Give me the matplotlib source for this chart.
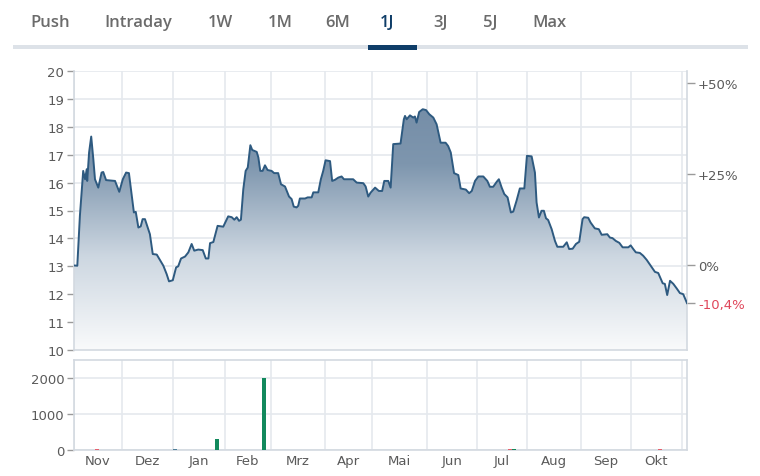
import numpy as np
import matplotlib
matplotlib.use("Agg")
import matplotlib.pyplot as plt
from matplotlib.patches import Polygon, Rectangle
from matplotlib.colors import LinearSegmentedColormap

# ---------------- data ----------------
tabs = ["Push", "Intraday", "1W", "1M", "6M", "1J", "3J", "5J", "Max"]
active_tab = "1J"

# trading-day index and closing price
day_idx = [0, 1.4, 2.5, 3.9, 4.7, 5.4, 5.6, 6.4, 7.3, 8.2, 8.9, 10.3, 11.7, 12.4, 13.6, 17.4,
           19.2, 20.7, 22.1, 23.3, 24.5, 25.4, 26.2, 27.3, 28.3, 29.1, 30.1, 32.2, 33.4, 35.1,
           37.9, 39.3, 40.3, 41.9, 43.3, 44.2, 45.4, 47.1, 48.5, 49.9, 51.0, 52.7, 54.6, 55.9,
           57.0, 57.7, 59.1, 60.9, 63.3, 64.8, 65.4, 66.9, 68.0, 69.0, 70.0, 70.8, 71.8, 72.8,
           73.7, 74.8, 75.6, 77.5, 78.2, 79.0, 80.0, 81.0, 82.1, 83.8, 84.9, 86.6, 87.8, 89.5,
           91.2, 92.3, 93.2, 94.4, 95.1, 95.8, 98.0, 99.1, 100.8, 101.5, 103.6, 104.7, 105.7,
           106.7, 108.6, 109.5, 110.7, 112.1, 113.5, 114.5, 118.4, 119.9, 122.7, 123.7, 124.8,
           125.8, 127.7, 129.3, 130.7, 131.6, 133.3, 134.3, 135.4, 138.5, 139.9, 140.4, 141.1,
           142.5, 143.9, 144.6, 145.3, 146.4, 147.9, 149.3, 150.7, 152.4, 153.8, 154.9, 155.5,
           157.6, 158.7, 159.8, 161.2, 163.0, 164.0, 166.2, 167.6, 168.7, 170.1, 171.5, 173.6,
           175.3, 176.4, 177.8, 179.3, 180.2, 181.4, 182.5, 183.9, 185.3, 186.3, 187.7, 189.1,
           191.0, 192.1, 194.1, 195.5, 196.2, 197.2, 198.3, 199.3, 200.2, 201.1, 202.6, 204.0,
           205.0, 207.5, 209.0, 210.0, 211.5, 212.9, 214.3, 215.7, 216.4, 218.1, 219.1, 220.9,
           222.6, 223.8, 225.2, 226.2, 227.3, 228.4, 229.8, 231.3, 232.7, 235.1, 236.1, 237.2,
           238.3, 240.0, 241.4, 242.9, 244.6, 246.4, 247.8, 248.8, 249.7, 250.6, 251.6, 252.8,
           254.2, 255.6, 257.0, 258.4, 260.0]
price = [13.03, 13.02, 14.81, 16.42, 16.12, 16.48, 16.06, 17.08, 17.65, 16.84, 16.12, 15.82,
         16.36, 16.38, 16.09, 16.06, 15.67, 16.12, 16.36, 16.34, 15.52, 14.93, 14.95, 14.39,
         14.43, 14.69, 14.69, 14.15, 13.44, 13.42, 13.02, 12.72, 12.46, 12.50, 12.96, 13.00,
         13.28, 13.35, 13.50, 13.80, 13.56, 13.60, 13.58, 13.28, 13.28, 13.83, 13.87, 14.45,
         14.42, 14.69, 14.79, 14.76, 14.67, 14.76, 14.63, 14.67, 15.76, 16.42, 16.54, 17.34,
         17.17, 17.10, 16.90, 16.42, 16.42, 16.62, 16.45, 16.42, 16.34, 16.34, 15.94, 15.86,
         15.50, 15.41, 15.14, 15.11, 15.17, 15.43, 15.43, 15.47, 15.47, 15.65, 15.65, 16.12,
         16.42, 16.80, 16.77, 16.06, 16.10, 16.18, 16.22, 16.12, 16.12, 16.00, 15.98, 15.86,
         15.50, 15.64, 15.82, 15.70, 15.70, 16.06, 16.06, 15.82, 17.38, 17.40, 18.27, 18.39,
         18.27, 18.41, 18.33, 18.37, 18.15, 18.53, 18.63, 18.60, 18.45, 18.33, 18.09, 17.67,
         17.43, 17.43, 17.31, 17.08, 16.34, 16.27, 15.79, 15.75, 15.62, 15.70, 16.06, 16.22,
         16.22, 16.06, 15.85, 15.85, 16.03, 16.12, 15.82, 15.59, 15.47, 14.93, 14.96, 15.35,
         15.79, 15.79, 16.96, 16.94, 16.36, 15.29, 14.75, 14.99, 14.99, 14.72, 14.66, 14.33,
         13.91, 13.70, 13.70, 13.86, 13.62, 13.63, 13.80, 13.88, 14.69, 14.76, 14.74, 14.57,
         14.36, 14.33, 14.13, 14.14, 14.15, 14.03, 14.01, 13.91, 13.84, 13.68, 13.68, 13.75,
         13.62, 13.50, 13.48, 13.38, 13.23, 13.02, 12.80, 12.76, 12.57, 12.39, 12.37, 11.97,
         12.48, 12.37, 12.21, 12.04, 12.00, 11.68]

base_price = 13.04
pct_ticks = [0.50, 0.25, 0.0, -0.104]
pct_labels = ["+50%", "+25%", "0%", "-10,4%"]

months = ["Nov", "Dez", "Jan", "Feb", "Mrz", "Apr", "Mai", "Jun", "Jul", "Aug", "Sep", "Okt"]
month_start_idx = [0, 20.4, 42.0, 64.0, 83.5, 106.4, 126.4, 149.7, 170.9, 192.1, 215.0, 236.2, 257.8]

vol_idx = [9.8, 42.8, 60.5, 80.6, 185.0, 186.7, 248.5, 258.9]
vol_val = [25, 15, 300, 2000, 20, 20, 20, 12]
vol_up = [False, None, True, True, False, True, False, None]

# ---------------- style ----------------
GRID = "#e5e9ee"
SPINE = "#d3d9e0"
TXT = "#5a5a5a"
LINE = "#2e5a80"
UP = "#12895c"
DOWN = "#e4606d"
NEUTRAL = "#4f7f99"

W, H = 760, 477
fig = plt.figure(figsize=(W / 100, H / 100), dpi=100)
fig.patch.set_facecolor("white")

def fx(px):
    return px / W

def fy(py):
    return 1 - py / H

# ---------------- tabs ----------------
tab_x = [50, 138, 220, 280, 338, 387, 441, 490, 549]
for t, x in zip(tabs, tab_x):
    act = t == active_tab
    fig.text(fx(x), fy(23), t, ha="center", va="center", fontsize=12,
             family=["Open Sans", "DejaVu Sans"], fontweight="semibold",
             color="#0f3d68" if act else "#6b6b6b")
fig.add_artist(Rectangle((fx(13), fy(50)), fx(748) - fx(13), 4 / H,
                         transform=fig.transFigure, facecolor="#dde2e8", edgecolor="none"))
fig.add_artist(Rectangle((fx(368), fy(51)), fx(417) - fx(368), 5 / H,
                         transform=fig.transFigure, facecolor="#0f3d68", edgecolor="none"))

# ---------------- main price axes ----------------
ax = fig.add_axes([fx(74), fy(351), fx(687) - fx(74), (351 - 72) / H])
x0, x1 = 0, 260
ax.set_xlim(x0, x1)
ax.set_ylim(10, 20)

cmap = LinearSegmentedColormap.from_list("g", ["#f9fafb", "#cdd7e1", "#7e96ae", "#7089a4"])
grad = np.linspace(0, 1, 256).reshape(-1, 1)
im = ax.imshow(grad, aspect="auto", cmap=cmap, origin="lower",
               extent=[x0, x1, 10, 20], zorder=1, interpolation="bicubic")
verts = list(zip(day_idx, price)) + [(day_idx[-1], 10), (day_idx[0], 10)]
poly = Polygon(verts, closed=True, facecolor="none", edgecolor="none")
ax.add_patch(poly)
im.set_clip_path(poly)
ax.plot(day_idx, price, color=LINE, lw=1.4, zorder=3, solid_joinstyle="round")

ax.set_yticks(range(10, 21))
ax.set_xticks(month_start_idx)
ax.set_xticklabels([])
ax.grid(True, color=GRID, lw=1.2, zorder=0)
ax.set_axisbelow(True)
ax.tick_params(axis="y", direction="out", length=5, width=1, color="#9a9a9a",
               labelsize=9.5, labelcolor=TXT, pad=2)
ax.tick_params(axis="x", length=0)
ax.spines["top"].set_visible(False)
for s in ["left", "bottom", "right"]:
    ax.spines[s].set_color(SPINE)
    ax.spines[s].set_linewidth(1.2)

axr = ax.twinx()
axr.set_ylim(10, 20)
axr.set_yticks([base_price * (1 + p) for p in pct_ticks])
axr.set_yticklabels(pct_labels)
axr.tick_params(axis="y", direction="out", length=6, width=1, color="#9a9a9a",
                labelsize=9.5, labelcolor=TXT, pad=2)
for lab, p in zip(axr.get_yticklabels(), pct_ticks):
    if abs(p + 0.104) < 1e-9:
        lab.set_color("#e0465a")
for s in axr.spines.values():
    s.set_visible(False)

# ---------------- volume axes ----------------
av = fig.add_axes([fx(74), fy(451), fx(687) - fx(74), (451 - 361) / H])
av.set_xlim(x0, x1)
av.set_ylim(0, 2510)
cols = [NEUTRAL if u is None else (UP if u else DOWN) for u in vol_up]
av.bar(vol_idx, vol_val, width=1.6, color=cols, zorder=3)
av.set_yticks([0, 1000, 2000])
av.set_xticks(month_start_idx)
av.set_xticklabels([])
av.set_xticks([(a + b) / 2 for a, b in zip(month_start_idx[:-1], month_start_idx[1:])], minor=True)
av.set_xticklabels(months, minor=True)
av.tick_params(axis="x", which="minor", length=0, labelsize=9.5, labelcolor=TXT, pad=3)
av.tick_params(axis="x", which="major", length=0)
av.grid(True, which="major", color=GRID, lw=1.2, zorder=0)
av.set_axisbelow(True)
av.tick_params(axis="y", direction="out", length=5, width=1, color="#9a9a9a",
               labelsize=9.5, labelcolor=TXT, pad=2)
for s in av.spines.values():
    s.set_color(SPINE)
    s.set_linewidth(1.2)

fig.savefig("out.png", dpi=100)
